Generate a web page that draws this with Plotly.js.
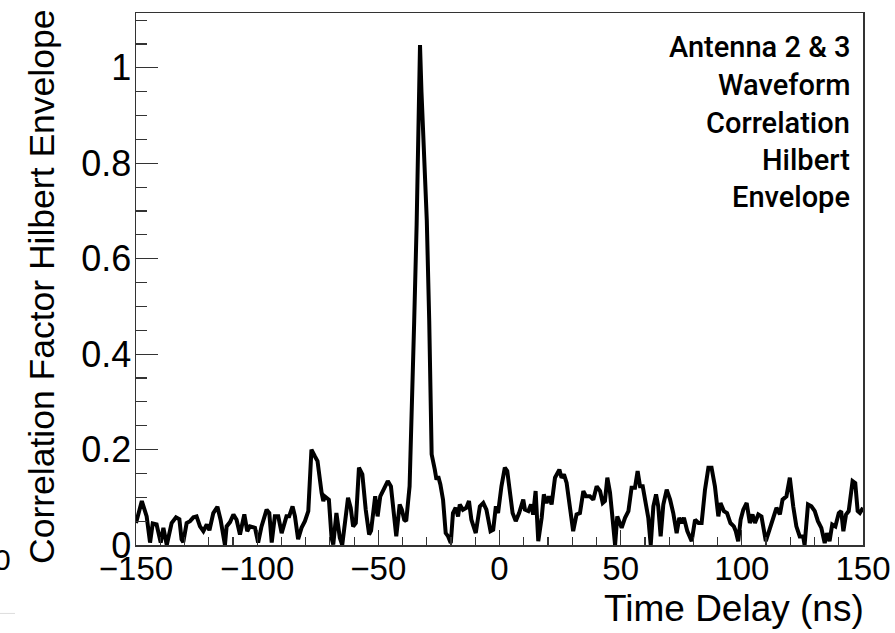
<!DOCTYPE html>
<html>
<head>
<meta charset="utf-8">
<script src="https://cdn.plot.ly/plotly-3.0.1.min.js"></script>
<style>
html,body{margin:0;padding:0;background:#fff;}
#chart{width:895px;height:633px;}
</style>
</head>
<body>
<div id="chart"></div>
<script>
const timeDelay = [
 -150, -147.6, -145.6, -144.2, -143.1, -141.5, -139.8, -138.7, -137.3, -135.3,
 -133.5, -132.1, -131.2, -130.5, -129.1, -127.7, -126.3, -125.0, -123.6, -122.2,
 -120.8, -119.7, -118.1, -116.4, -115.1, -113.3, -112.6, -111.2, -109.8, -108.5,
 -107.1, -105.3, -104.1, -103.0, -100.9, -99.6, -98.2, -96.1, -95.0, -94.0,
 -92.7, -91.3, -89.9, -89.0, -87.9, -86.8, -85.4, -84.4, -83.1, -81.7,
 -80.3, -78.9, -77.6, -76.2, -75.1, -73.4, -72.7, -72.1, -70.4, -69.3,
 -68.6, -67.3, -65.9, -64.9, -63.8, -62.5, -61.4, -60.4, -59.3, -58.0,
 -56.6, -55.2, -53.8, -53.0, -51.3, -50.3, -49.2, -47.8, -46.1, -44.8,
 -43.7, -42.6, -41.2, -40.3, -39.3, -38.5, -37.1, -36.6, -36.2, -35.2,
 -34.2, -33.5, -32.8, -32.2, -31.0, -30.0, -29.0, -28.3, -28.0, -26.7,
 -26.0, -25.3, -24.4, -23.3, -22.2, -21.2, -20.1, -19.2, -18.1, -17.1,
 -16.4, -15.1, -13.7, -12.6, -11.6, -9.8, -8.1, -6.7, -5.4, -3.7,
 -2.6, -1.5, -0.6, 0.8, 2.2, 3.2, 4.3, 5.4, 6.7, 8.1,
 9.8, 10.5, 11.9, 13.0, 13.9, 14.9, 16.0, 17.4, 18.3, 19.4,
 20.4, 21.5, 22.9, 24.7, 25.6, 26.6, 27.7, 29.1, 30.4, 31.8,
 33.2, 34.6, 35.7, 37.3, 38.7, 40.1, 41.5, 42.6, 43.5, 44.5,
 45.6, 46.7, 47.7, 48.6, 50.4, 51.8, 53.2, 54.5, 55.9, 57.0,
 58.0, 59.1, 60.5, 61.4, 62.4, 63.5, 64.6, 65.5, 66.5, 67.6,
 69.0, 70.4, 71.7, 73.1, 74.2, 75.2, 76.1, 77.5, 79.3, 80.7,
 82.1, 83.4, 84.8, 86.2, 87.5, 88.9, 90.3, 91.2, 92.6, 93.9,
 95.3, 96.7, 97.5, 98.5, 99.5, 100.6, 102.0, 103.3, 104.4, 105.4,
 106.8, 108.1, 109.9, 111.3, 112.9, 114.3, 115.7, 116.8, 118.4, 119.8,
 121.2, 122.5, 123.9, 125.3, 125.9, 127.3, 128.7, 130.1, 131.4, 132.8,
 134.2, 135.1, 136.2, 137.3, 138.6, 140.0, 141.0, 141.9, 143.0, 144.1,
 145.7, 146.8, 147.8, 148.7, 150.0
];
const correlation = [
 0.046, 0.092, 0.060, 0.005, 0.045, 0.043, 0.005, 0.036, 0.000, 0.046,
 0.058, 0.054, 0.012, 0.006, 0.046, 0.050, 0.058, 0.060, 0.039, 0.029,
 0.043, 0.031, 0.067, 0.080, 0.053, 0.000, 0.039, 0.048, 0.064, 0.053,
 0.022, 0.064, 0.029, 0.039, 0.036, 0.005, 0.039, 0.074, 0.067, 0.005,
 0.060, 0.060, 0.025, 0.043, 0.060, 0.060, 0.081, 0.060, 0.012, 0.036,
 0.050, 0.071, 0.200, 0.186, 0.176, 0.109, 0.092, 0.102, 0.095, 0.015,
 0.001, 0.067, 0.015, 0.000, 0.053, 0.099, 0.078, 0.039, 0.046, 0.162,
 0.148, 0.074, 0.022, 0.030, 0.102, 0.060, 0.102, 0.116, 0.134, 0.123,
 0.078, 0.018, 0.085, 0.074, 0.053, 0.050, 0.123, 0.200, 0.263, 0.470,
 0.670, 0.860, 1.048, 0.950, 0.800, 0.680, 0.470, 0.300, 0.190, 0.158,
 0.137, 0.144, 0.127, 0.095, 0.025, 0.018, 0.004, 0.067, 0.078, 0.060,
 0.085, 0.074, 0.078, 0.092, 0.053, 0.025, 0.081, 0.088, 0.074, 0.029,
 0.032, 0.081, 0.067, 0.123, 0.162, 0.155, 0.116, 0.067, 0.050, 0.067,
 0.095, 0.074, 0.071, 0.085, 0.064, 0.113, 0.008, 0.057, 0.106, 0.088,
 0.102, 0.085, 0.141, 0.158, 0.141, 0.148, 0.130, 0.071, 0.029, 0.064,
 0.067, 0.113, 0.102, 0.102, 0.095, 0.123, 0.113, 0.088, 0.092, 0.141,
 0.110, 0.053, 0.000, 0.060, 0.036, 0.057, 0.071, 0.120, 0.120, 0.155,
 0.123, 0.123, 0.088, 0.057, 0.000, 0.081, 0.106, 0.081, 0.018, 0.085,
 0.116, 0.095, 0.067, 0.025, 0.057, 0.046, 0.057, 0.029, 0.008, 0.053,
 0.046, 0.046, 0.116, 0.162, 0.162, 0.123, 0.060, 0.088, 0.071, 0.067,
 0.046, 0.039, 0.029, 0.008, 0.053, 0.074, 0.088, 0.046, 0.064, 0.046,
 0.064, 0.060, 0.008, 0.029, 0.053, 0.078, 0.064, 0.095, 0.102, 0.141,
 0.081, 0.039, 0.018, 0.018, 0.000, 0.085, 0.081, 0.071, 0.050, 0.036,
 0.004, 0.025, 0.008, 0.043, 0.039, 0.067, 0.071, 0.029, 0.064, 0.071,
 0.134, 0.130, 0.071, 0.067, 0.078
];
const xTickVals = [-150, -100, -50, 0, 50, 100, 150];
const yTickVals = [0, 0.2, 0.4, 0.6, 0.8, 1];
const yTickText = ["0", "0.2", "0.4", "0.6", "0.8", "1"];
const xTitle = "Time Delay (ns)";
const yTitle = "Correlation Factor Hilbert Envelope";
const infoLines = ["Antenna 2 & 3", "Waveform", "Correlation", "Hilbert", "Envelope"];

const W = 895, H = 633;
const L = 136, R = 863, T = 13, B = 545.5;
const pw = R - L, ph = B - T;
function px2x(p){ return (p - L) / pw; }
function py2y(p){ return (B - p) / ph; }

const xTickFont = {family: "Liberation Sans, Arial, sans-serif", size: 33, color: "#000"};
const yTickFont = {family: "Liberation Sans, Arial, sans-serif", size: 36, color: "#000"};
const titleFont = {family: "Liberation Sans, Arial, sans-serif", size: 37, color: "#000"};
const infoFont = {family: "Roboto, sans-serif", size: 29, color: "#000", weight: 500};

const infoY = [47, 85, 123, 160, 197];
const annotations = infoLines.map((t, i) => ({
  text: t, xref: "paper", yref: "paper", x: px2x(852), y: py2y(infoY[i]),
  xanchor: "right", yanchor: "middle", showarrow: false, font: infoFont
}));
annotations.push({
  text: xTitle, xref: "paper", yref: "paper", x: px2x(866), y: py2y(609),
  xanchor: "right", yanchor: "middle", showarrow: false, font: titleFont
});
annotations.push({
  text: yTitle, xref: "paper", yref: "paper", x: px2x(42), y: py2y(8),
  xanchor: "center", yanchor: "top", textangle: -90, showarrow: false,
  font: {family: "Liberation Sans, Arial, sans-serif", size: 35.5, color: "#000"}
});
annotations.push({
  text: "0", xref: "paper", yref: "paper", x: px2x(13), y: py2y(560),
  xanchor: "right", yanchor: "middle", showarrow: false,
  font: {family: "Liberation Sans, Arial, sans-serif", size: 30, color: "#000"}
});

const trace = {
  x: timeDelay, y: correlation, type: "scatter", mode: "lines",
  line: {color: "#000", width: 4}, hoverinfo: "skip"
};

const layout = {
  width: W, height: H,
  margin: {l: L, r: W - R, t: T, b: H - B, pad: 0},
  paper_bgcolor: "#fff", plot_bgcolor: "#fff",
  showlegend: false,
  xaxis: {
    range: [-150, 150], tickvals: xTickVals, ticktext: xTickVals.map(v => v < 0 ? "\u2212" + Math.abs(v) : String(v)),
    ticks: "inside", ticklen: 15, tickwidth: 1.2, tickcolor: "#333", ticklabelstandoff: -6,
    minor: {dtick: 10, tick0: 0, ticks: "inside", ticklen: 8, tickwidth: 1.2, tickcolor: "#333"},
    showline: true, linecolor: "#333", linewidth: 1.5, mirror: true,
    showgrid: false, zeroline: false, tickfont: xTickFont, automargin: false
  },
  yaxis: {
    range: [0, 1.115], tickvals: yTickVals, ticktext: yTickText,
    ticks: "inside", ticklen: 22, tickwidth: 1.2, tickcolor: "#333", ticklabelstandoff: -4,
    minor: {dtick: 0.05, tick0: 0, ticks: "inside", ticklen: 11, tickwidth: 1.2, tickcolor: "#333"},
    showline: true, linecolor: "#333", linewidth: 1.5, mirror: true,
    showgrid: false, zeroline: false, tickfont: yTickFont, automargin: false
  },
  annotations: annotations,
  shapes: [{type: "line", xref: "paper", yref: "paper", x0: px2x(0), x1: px2x(15), y0: py2y(614), y1: py2y(614),
            line: {color: "#ddd", width: 1}}]
};

Plotly.newPlot("chart", [trace], layout, {staticPlot: true, displayModeBar: false});
</script>
</body>
</html>
